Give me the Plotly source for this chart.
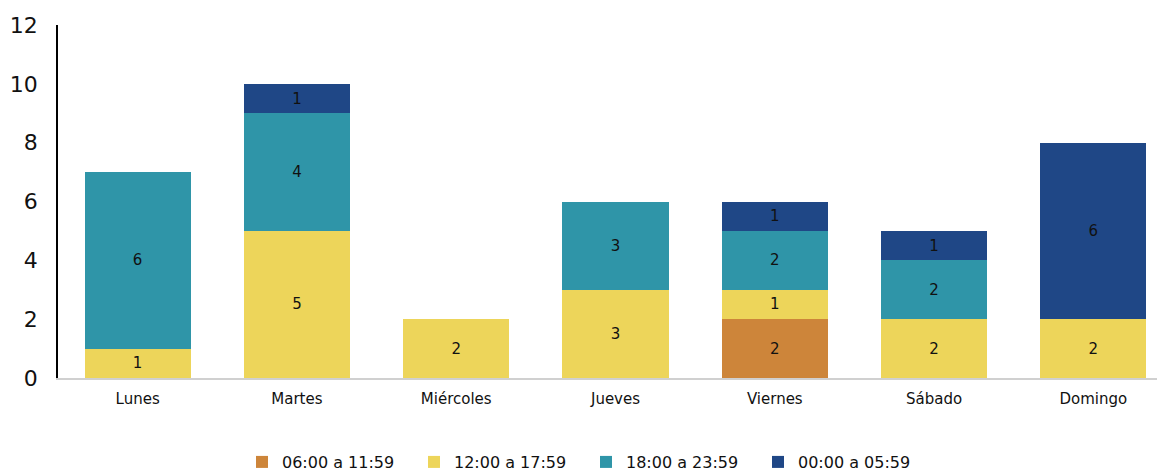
import plotly.graph_objects as go

dias = ["Lunes", "Martes", "Miércoles", "Jueves", "Viernes", "Sábado", "Domingo"]
series_names = ["06:00 a 11:59", "12:00 a 17:59", "18:00 a 23:59", "00:00 a 05:59"]
manana = [None, None, None, None, 2, None, None]
tarde = [1, 5, 2, 3, 1, 2, 2]
noche = [6, 4, None, 3, 2, 2, None]
madrugada = [None, 1, None, None, 1, 1, 6]
colors = ["#CD853A", "#EDD55A", "#2F95A8", "#1F4786"]
y_ticks = [0, 2, 4, 6, 8, 10, 12]

fig = go.Figure()
for name, vals, col in zip(series_names, [manana, tarde, noche, madrugada], colors):
    fig.add_trace(go.Bar(
        x=dias, y=vals, name=name, marker_color=col, marker_line_width=0,
        text=[str(v) if v else "" for v in vals], textposition="inside",
        insidetextanchor="middle", textangle=0,
        textfont=dict(color="#111111", size=15, family="DejaVu Sans"),
    ))

fig.update_layout(
    barmode="stack", bargap=0.333,
    width=1165, height=476,
    margin=dict(l=50, r=0, t=17, b=106),
    plot_bgcolor="white", paper_bgcolor="white",
    font=dict(family="DejaVu Sans", color="#111111"),
    showlegend=True,
    legend=dict(orientation="h", x=0.165, xanchor="left", y=-0.238, yanchor="middle",
                font=dict(size=16), itemwidth=30, traceorder="normal",
                entrywidth=127, entrywidthmode="pixels"),
    uniformtext=dict(mode="show", minsize=10),
)
fig.update_yaxes(range=[0, 12], tickvals=y_ticks, showgrid=False, zeroline=False,
                 showline=True, linecolor="black", linewidth=1.5, automargin=False,
                 tickfont=dict(size=22), ticks="", ticklabelstandoff=14)
fig.update_xaxes(showline=True, linecolor="#D0D0D0", linewidth=1.5,
                 ticks="", automargin=False, tickfont=dict(size=15), ticklabelstandoff=6)

fig.write_html("out.html")
